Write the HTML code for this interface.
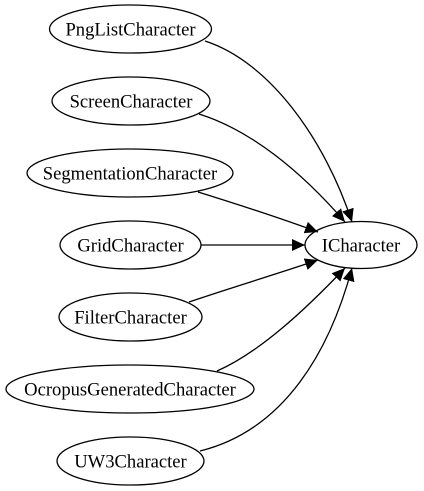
<!DOCTYPE html>
<html><head><style>
html,body{margin:0;padding:0;background:#fff;}
svg{display:block;}
svg text{font-family:"Liberation Serif","DejaVu Serif","Times New Roman",Times,serif;font-size:18.6px;text-anchor:middle;fill:#000;}
</style></head><body>
<svg width="424" height="491" viewBox="0 0 424 491" xmlns="http://www.w3.org/2000/svg">
<defs>
<marker id="a" markerUnits="userSpaceOnUse" markerWidth="16" markerHeight="14" refX="13" refY="6" orient="auto">
<polygon points="0,0 13,6 0,12" fill="#000"/>
</marker>
</defs>
<g fill="none" stroke="#000" stroke-width="1.3">
<ellipse cx="130.5" cy="29" rx="81" ry="24"/>
<ellipse cx="131" cy="101" rx="79" ry="24"/>
<ellipse cx="130" cy="173" rx="103" ry="24"/>
<ellipse cx="130.5" cy="245" rx="70.5" ry="24"/>
<ellipse cx="130.5" cy="317" rx="71.5" ry="24"/>
<ellipse cx="130" cy="389" rx="124" ry="24"/>
<ellipse cx="130.5" cy="461" rx="73.5" ry="24"/>
<ellipse cx="361" cy="245" rx="56" ry="23.5"/>
<path d="M205,41 C270,62 325,140 352,222" marker-end="url(#a)"/>
<path d="M199,114 C250,130 300,170 345,222" marker-end="url(#a)"/>
<path d="M198,192 C240,205 280,218 318,232" marker-end="url(#a)"/>
<path d="M201,245 L305,245" marker-end="url(#a)"/>
<path d="M189,302 C230,288 280,273 318,260" marker-end="url(#a)"/>
<path d="M217,371 C260,352 305,310 345,268" marker-end="url(#a)"/>
<path d="M200,451 C285,430 330,350 352,268" marker-end="url(#a)"/>
</g>
<g font-family="Liberation Serif, DejaVu Serif, serif" font-size="18.6" text-anchor="middle">
<text x="130.5" y="35.5">PngListCharacter</text>
<text x="131" y="107.5">ScreenCharacter</text>
<text x="130" y="179.5">SegmentationCharacter</text>
<text x="130.5" y="251.5">GridCharacter</text>
<text x="130.5" y="323.5">FilterCharacter</text>
<text x="130" y="395.5">OcropusGeneratedCharacter</text>
<text x="130.5" y="467.5">UW3Character</text>
<text x="361" y="251.5">ICharacter</text>
</g>
</svg>
</body></html>
